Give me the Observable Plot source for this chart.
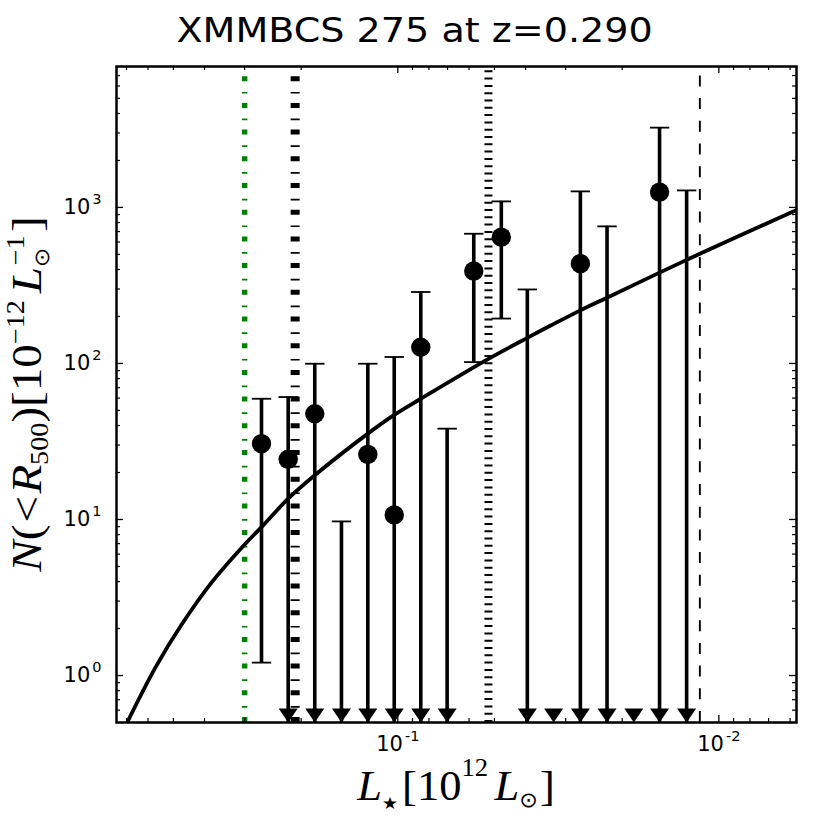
<!DOCTYPE html>
<html><head><meta charset="utf-8">
<script src="https://cdn.jsdelivr.net/npm/d3@7"></script>
<script src="https://cdn.jsdelivr.net/npm/@observablehq/plot@0.6"></script>
<style>
body{margin:0;background:#fff;}
#title{height:56px;width:830px;text-align:center;font-family:"DejaVu Sans";font-size:34px;line-height:60px;color:#000;white-space:nowrap;}
#title span{display:inline-block;transform:scaleX(1.12);}
#chart svg{display:block;}
</style></head><body>
<div id="title"><span>XMMBCS 275 at z=0.290</span></div>
<div id="chart"></div>
<script>
// ---- data ----
const binL  = [0.2658, 0.2195, 0.1814, 0.1498, 0.1240, 0.1026, 0.0848, 0.0702, 0.0580, 0.0476, 0.0395, 0.0327, 0.0270, 0.0223, 0.0184, 0.0153, 0.0126];
const binN  = [30.6, 24.3, 47.6, null, 26.1, 10.7, 127, null, 391, 645, null, null, 436, null, null, 1254, null];
const binHi = [59.4, 60.9, 99.6, 9.72, 99.6, 110, 287, 38.2, 678, 1093, 298, null, 1267, 756, null, 3245, 1285];
const binLo = [1.21, null, null, null, null, null, null, null, 102, 194, null, null, null, null, null, null, null];
const binUpperLimit = [false, true, true, true, true, true, true, true, false, false, true, true, true, true, true, true, true];

const curveL = [0.6966, 0.5685, 0.4696, 0.3778, 0.3019, 0.2658, 0.2195, 0.1814, 0.1240, 0.1026, 0.0848, 0.0522, 0.0395, 0.0334, 0.0270, 0.0223, 0.0153, 0.0126, 0.01146, 0.00577];
const curveN = [0.5, 1.129, 2.146, 4.01, 6.82, 8.93, 13.6, 19.2, 35.5, 46.8, 59.4, 107, 146, 175, 219, 264, 382, 461, 505, 957];

const greenLimitL = 0.300;
const thickDashL = 0.2088;
const dottedL = 0.0522;
const thinDashL = 0.01146;

const xDomain = [0.752, 0.00573];
const yDomain = [0.5, 8000];
const xMajor = [0.1, 0.01];
const xMajorLabels = ["10^-1", "10^-2"];
const xMinor = [0.7, 0.6, 0.5, 0.4, 0.3, 0.2, 0.09, 0.08, 0.07, 0.06, 0.05, 0.04, 0.03, 0.02, 0.009, 0.008, 0.007, 0.006];
const yMajor = [1, 10, 100, 1000];
const yMajorLabels = ["10^0", "10^1", "10^2", "10^3"];
const yMinor = [0.6, 0.7, 0.8, 0.9, 2, 3, 4, 5, 6, 7, 8, 9, 20, 30, 40, 50, 60, 70, 80, 90, 200, 300, 400, 500, 600, 700, 800, 900, 2000, 3000, 4000, 5000, 6000, 7000];

// ---- layout ----
const W = 830, H = 774, mL = 116, mR = 34, mT = 10, mB = 108;
const innerW = W - mL - mR, innerH = H - mT - mB;

const bins = binL.map((L, i) => ({L, N: binN[i], hi: binHi[i], lo: binLo[i], lim: binUpperLimit[i]}));
const curve = curveL.map((L, i) => ({L, N: curveN[i]}));

const capSymbol = {draw(ctx) { ctx.moveTo(-9.7, 0); ctx.lineTo(9.7, 0); }};
const arrowHead = {draw(ctx) { ctx.moveTo(-9.5, -14); ctx.lineTo(9.5, -14); ctx.lineTo(0, 0); ctx.closePath(); }};
const dashDot = "5,9.3,1.7,10.7";

const svg = Plot.plot({
  width: W, height: H,
  marginLeft: mL, marginRight: mR, marginTop: mT, marginBottom: mB,
  style: {fontFamily: "DejaVu Sans", fontSize: "21px", background: "white", color: "black"},
  x: {type: "log", domain: xDomain, ticks: xMajor, tickFormat: d => xMajorLabels[xMajor.indexOf(d)], tickSize: 0, tickPadding: 14, label: null},
  y: {type: "log", domain: yDomain, ticks: yMajor, tickFormat: d => yMajorLabels[yMajor.indexOf(d)], tickSize: 0, tickPadding: 15, label: null},
  marks: [
    Plot.ruleX([greenLimitL], {x: d => d, y1: yDomain[0], y2: yDomain[1], stroke: "#008000", strokeWidth: 5.5, strokeDasharray: dashDot}),
    Plot.ruleX([thickDashL], {x: d => d, y1: yDomain[0], y2: yDomain[1], stroke: "black", strokeWidth: 9, strokeDasharray: dashDot}),
    Plot.ruleX([dottedL], {x: d => d, y1: yDomain[0], y2: yDomain[1], stroke: "black", strokeWidth: 8, strokeDasharray: "2,5.3"}),
    Plot.ruleX([thinDashL], {x: d => d, y1: yDomain[0], y2: yDomain[1], stroke: "black", strokeWidth: 1.9, strokeDasharray: "11,11.7"}),
    Plot.line(curve, {x: "L", y: "N", stroke: "black", strokeWidth: 3.8, curve: "catmull-rom", clip: true}),
    Plot.ruleX(bins.filter(d => d.hi != null), {x: "L", y1: d => d.lo ?? yDomain[0], y2: "hi", stroke: "black", strokeWidth: 3.6}),
    Plot.dot(bins.filter(d => d.hi != null), {x: "L", y: "hi", symbol: capSymbol, stroke: "black", fill: "none", strokeWidth: 1.8}),
    Plot.dot(bins.filter(d => d.lo != null), {x: "L", y: "lo", symbol: capSymbol, stroke: "black", fill: "none", strokeWidth: 1.8}),
    Plot.dot(bins.filter(d => d.lim), {x: "L", y: () => yDomain[0], symbol: arrowHead, fill: "black", stroke: "none"}),
    Plot.dot(bins.filter(d => d.N != null), {x: "L", y: "N", r: 9.7, fill: "black", stroke: "none"}),
    // inward ticks, all four sides
    Plot.ruleX(xMajor, {x: d => d, insetTop: innerH - 7, stroke: "black", strokeWidth: 1.3}),
    Plot.ruleX(xMajor, {x: d => d, insetBottom: innerH - 7, stroke: "black", strokeWidth: 1.3}),
    Plot.ruleX(xMinor, {x: d => d, insetTop: innerH - 4, stroke: "black", strokeWidth: 1.2}),
    Plot.ruleX(xMinor, {x: d => d, insetBottom: innerH - 4, stroke: "black", strokeWidth: 1.2}),
    Plot.ruleY(yMajor, {y: d => d, insetRight: innerW - 7, stroke: "black", strokeWidth: 1.3}),
    Plot.ruleY(yMajor, {y: d => d, insetLeft: innerW - 7, stroke: "black", strokeWidth: 1.3}),
    Plot.ruleY(yMinor, {y: d => d, insetRight: innerW - 4, stroke: "black", strokeWidth: 1.2}),
    Plot.ruleY(yMinor, {y: d => d, insetLeft: innerW - 4, stroke: "black", strokeWidth: 1.2}),
    Plot.frame({stroke: "black", strokeWidth: 2.5})
  ]
});

// superscript exponents on tick labels
d3.select(svg).selectAll("text").each(function() {
  const s = this.textContent;
  if (!s.includes("^")) return;
  const [base, exp] = s.split("^");
  this.textContent = "";
  this.setAttribute("font-family", "DejaVu Sans");
  this.style.fontSize = "21px";
  this.appendChild(document.createTextNode(base));
  const ts = document.createElementNS("http://www.w3.org/2000/svg", "tspan");
  ts.style.fontSize = "14.5px";
  ts.setAttribute("dy", "-10");
  ts.setAttribute("dx", "2");
  ts.textContent = exp;
  this.appendChild(ts);
});

function addMath(x, y, F, segs, rot, sx) {
  const t = d3.select(svg).append("text")
    .attr("transform", `translate(${x},${y})` + (rot ? ` rotate(${rot})` : "") + ` scale(${sx},1)`)
    .attr("text-anchor", "middle").attr("font-family", "Liberation Serif")
    .attr("font-size", F).attr("fill", "black");
  let cur = 0;
  for (const s of segs) {
    const sp = t.append("tspan").text(s.t);
    const sh = s.sh || 0;
    sp.attr("dy", sh - cur); cur = sh;
    if (s.dx) sp.attr("dx", s.dx);
    sp.attr("font-size", F * (s.s || 1));
    if (s.it) sp.attr("font-style", "italic");
    if (s.f) sp.attr("font-family", s.f);
  }
}
// x label: L_star [10^12 L_sun]
addMath(mL + innerW / 2, 744, 42, [
  {t: "L", it: true},
  {t: "★", s: 0.4, f: "DejaVu Sans", sh: 9},
  {t: "[", dx: 4},
  {t: "10"},
  {t: "12", s: 0.6, sh: -24},
  {t: "L", it: true, dx: 6},
  {t: "⊙", s: 0.5, f: "DejaVu Sans", sh: 7},
  {t: "]", dx: 2}
], 0, 1.06);
// y label: N(<R_500)[10^-12 L_sun^-1]
addMath(41, mT + innerH / 2, 42, [
  {t: "N", it: true},
  {t: "("},
  {t: "<", dx: 2},
  {t: "R", it: true, dx: 2},
  {t: "500", s: 0.6, sh: 7},
  {t: ")"},
  {t: "[10"},
  {t: "−12", s: 0.6, sh: -17},
  {t: "L", it: true, dx: 6},
  {t: "⊙", s: 0.5, f: "DejaVu Sans", sh: 8},
  {t: "−1", s: 0.6, sh: -17, dx: -16},
  {t: "]", dx: 3}
], -90, 1.12);

document.getElementById("chart").appendChild(svg);
</script>
</body></html>
